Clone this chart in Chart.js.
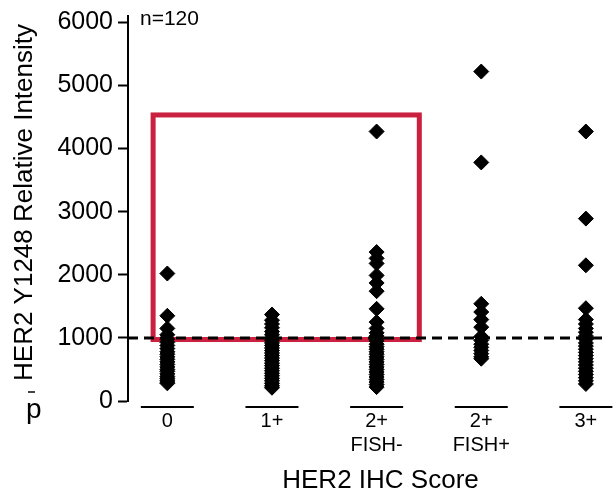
<!DOCTYPE html>
<html>
<head>
<meta charset="utf-8">
<script src="https://cdn.jsdelivr.net/npm/chart.js@4.4.0/dist/chart.umd.min.js"></script>
<style>
  html, body { margin: 0; padding: 0; background: #fff; }
</style>
</head>
<body>
<canvas id="myChart" width="615" height="494"></canvas>
<script>
// categories (x positions 0..4) and multi-line tick labels
const categories = [['0'], ['1+'], ['2+', 'FISH-'], ['2+', 'FISH+'], ['3+']];

// relative intensity per IHC score group
const score0 = [2020, 1350, 1150, 1050, 980, 930, 880, 830, 780, 740, 700, 660, 620, 580,
                540, 500, 470, 430, 390, 360, 330, 300, 280];
const score1 = [1370, 1280, 1220, 1160, 1100, 1050, 1000, 960, 920, 880, 840, 800, 760, 720,
                680, 640, 600, 560, 520, 480, 440, 400, 360, 320, 280, 240, 210];
const score2neg = [4270, 2360, 2260, 2180, 1990, 1870, 1740, 1460, 1250, 1150, 1080, 1030, 990,
                   950, 900, 860, 820, 780, 740, 700, 660, 620, 580, 540, 500, 460, 420, 380,
                   340, 300, 260, 220];
const score2pos = [5220, 3780, 1540, 1410, 1290, 1170, 1020, 960, 900, 850, 800, 750, 700, 670];
const score3 = [4270, 2890, 2150, 1470, 1290, 1220, 1150, 1090, 1030, 980, 920, 870, 820, 770,
                720, 670, 620, 570, 520, 470, 420, 370, 320, 270];
const groups = [score0, score1, score2neg, score2pos, score3];

const yTicks = [0, 1000, 2000, 3000, 4000, 5000, 6000];
const cutoff = 1000;
const xMin = -0.376, xMax = 4.197;
// highlighted region (data units)
const boxX = [-0.136, 2.408];
const boxY = [974, 4532];

const FONT = '"Liberation Sans", Arial, Helvetica, sans-serif';

let points = [];
groups.forEach((vals, i) => vals.forEach(v => points.push({ x: i, y: v })));

const decor = {
    id: 'decor',
    beforeDatasetsDraw(chart) {
        const { ctx, scales: { x, y } } = chart;
        ctx.save();
        ctx.strokeStyle = '#C9213F';
        ctx.lineWidth = 5;
        const l = x.getPixelForValue(boxX[0]), r = x.getPixelForValue(boxX[1]);
        const t = y.getPixelForValue(boxY[1]), b = y.getPixelForValue(boxY[0]);
        ctx.strokeRect(l, t, r - l, b - t);
        ctx.restore();
    },
    afterDraw(chart) {
        const { ctx, scales: { x } } = chart;
        ctx.save();
        // lines over each category label
        ctx.strokeStyle = '#000';
        ctx.lineWidth = 2;
        categories.forEach((c, i) => {
            const px = x.getPixelForValue(i);
            ctx.beginPath();
            ctx.moveTo(px - 26.5, 407);
            ctx.lineTo(px + 26.5, 407);
            ctx.stroke();
        });

        ctx.fillStyle = '#000';
        // x title
        ctx.font = '26px ' + FONT;
        ctx.textAlign = 'center';
        ctx.textBaseline = 'alphabetic';
        ctx.fillText('HER2 IHC Score', 380.5, 488);

        // n label
        ctx.font = '21px ' + FONT;
        ctx.textAlign = 'left';
        ctx.textBaseline = 'middle';
        ctx.fillText('n=120', 140, 19);

        // stray "p" and dash of the y title
        ctx.font = '28px ' + FONT;
        ctx.textBaseline = 'alphabetic';
        ctx.fillText('p', 26, 418);
        ctx.strokeStyle = '#444';
        ctx.beginPath();
        ctx.moveTo(28, 392);
        ctx.lineTo(35, 392);
        ctx.stroke();

        // y title
        ctx.translate(32, 202.5);
        ctx.rotate(-Math.PI / 2);
        ctx.font = '26px ' + FONT;
        ctx.textAlign = 'center';
        ctx.fillText('HER2 Y1248 Relative Intensity', 0, 0);
        ctx.restore();
    }
};

let myChart = document.getElementById('myChart').getContext('2d');
new Chart(myChart, {
    type: 'scatter',
    data: {
        datasets: [{
            data: points,
            pointStyle: 'rectRot',
            pointRadius: 7.5,
            pointHoverRadius: 7.5,
            pointBackgroundColor: '#000',
            pointBorderColor: '#000',
            pointBorderWidth: 1,
        }, {
            type: 'line',
            data: [{ x: xMin, y: cutoff }, { x: xMax, y: cutoff }],
            borderColor: '#000',
            borderWidth: 3,
            borderDash: [10, 6],
            pointRadius: 0,
            fill: false,
        }]
    },
    options: {
        responsive: false,
        animation: false,
        events: [],
        layout: { padding: { top: 16, left: 0, right: 0, bottom: 0 } },
        plugins: {
            legend: { display: false },
            tooltip: { enabled: false },
        },
        scales: {
            x: {
                type: 'linear',
                min: xMin,
                max: xMax,
                afterBuildTicks: axis => { axis.ticks = categories.map((c, i) => ({ value: i })); },
                afterFit: scale => { scale.height = 93; },
                border: { display: false },
                grid: { display: false, drawTicks: false, tickLength: 0 },
                ticks: {
                    autoSkip: false,
                    maxRotation: 0,
                    padding: 8,
                    color: '#000',
                    font: { family: FONT, size: 20, lineHeight: 1.2 },
                    callback: (v) => categories[v]
                }
            },
            y: {
                type: 'linear',
                min: 0,
                max: 6100,
                afterBuildTicks: axis => { axis.ticks = yTicks.map(v => ({ value: v })); },
                afterFit: scale => { scale.width = 128; scale.paddingTop = 0; scale.paddingBottom = 0; },
                border: { display: true, color: '#000', width: 2 },
                grid: { drawOnChartArea: false, drawTicks: true, tickLength: 10, tickColor: '#000', tickWidth: 2 },
                ticks: {
                    padding: 5,
                    color: '#000',
                    font: { family: FONT, size: 25 },
                    callback: v => String(v)
                }
            }
        }
    },
    plugins: [decor]
});
</script>
</body>
</html>
